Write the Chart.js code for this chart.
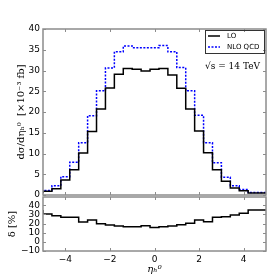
<!DOCTYPE html>
<html>
<head>
<meta charset="utf-8">
<script src="https://cdn.jsdelivr.net/npm/chart.js@4.4.1/dist/chart.umd.min.js"></script>
<style>
  html, body { margin: 0; padding: 0; background: #fff; }
  #wrap { position: relative; width: 280px; height: 280px; }
  canvas { position: absolute; left: 0; top: 0; }
</style>
</head>
<body>
<div id="wrap">
  <canvas id="topChart" width="280" height="280"></canvas>
  <canvas id="ratioChart" width="280" height="280"></canvas>
</div>
<script>
// bin edges in eta_h0 (25 bins of 0.4)
const ETA_EDGES = [-5.0, -4.6, -4.2, -3.8, -3.4, -3.0, -2.6, -2.2, -1.8, -1.4, -1.0, -0.6, -0.2, 0.2, 0.6, 1.0, 1.4, 1.8, 2.2, 2.6, 3.0, 3.4, 3.8, 4.2, 4.6, 5.0];
// dsigma/deta [x10^-3 fb]
const LO = [0.4, 0.9, 1.5, 3.6, 6.1, 10.1, 15.3, 20.7, 25.8, 29.1, 30.5, 30.3, 29.9, 30.3, 30.5, 28.9, 25.7, 20.7, 15.4, 10.2, 6.1, 3.3, 1.7, 1.0, 0.5];
const NLO_QCD = [0.6, 1.1, 2.2, 4.4, 7.9, 12.6, 19.1, 25.1, 30.6, 34.5, 35.9, 35.5, 35.5, 35.5, 36.0, 34.5, 30.7, 25.1, 19.2, 12.6, 7.8, 4.3, 2.2, 1.3, 0.6];
// delta [%]
const DELTA = [34.8, 30.4, 28.6, 26.8, 26.8, 21.6, 23.8, 19.8, 18.4, 17.3, 16.5, 16.5, 17.7, 15.8, 16.5, 17.3, 18.7, 20.2, 23.8, 22.0, 26.8, 27.5, 29.3, 31.2, 34.8];

const X_TICKS = [-4, -2, 0, 2, 4];
const TOP_Y_TICKS = [0, 5, 10, 15, 20, 25, 30, 35, 40];
const RATIO_Y_TICKS = [-10, 0, 10, 20, 30, 40];

const FRAME = '#8c8c8c';
const TICK_FONT = { family: 'DejaVu Sans', size: 9 };

// histogram points: one per left edge, plus closing point at the last edge
function steps(values) {
    const pts = values.map((v, i) => ({ x: ETA_EDGES[i], y: v }));
    pts.push({ x: ETA_EDGES[ETA_EDGES.length - 1], y: values[values.length - 1] });
    return pts;
}

function minus(v) {
    return String(v).replace('-', '\u2212');
}

// frame + inward ticks on all four sides
const framePlugin = {
    id: 'frame',
    afterDraw(chart, args, opts) {
        const { ctx, chartArea: a, scales } = chart;
        ctx.save();
        ctx.strokeStyle = FRAME;
        ctx.lineWidth = 1;
        const L = 3;
        ctx.beginPath();
        opts.xTicks.forEach(t => {
            const px = Math.round(scales.x.getPixelForValue(t)) + 0.5;
            ctx.moveTo(px, a.bottom); ctx.lineTo(px, a.bottom - L);
            ctx.moveTo(px, a.top); ctx.lineTo(px, a.top + L);
        });
        opts.yTicks.forEach(t => {
            const py = Math.round(scales.y.getPixelForValue(t)) + 0.5;
            ctx.moveTo(a.left, py); ctx.lineTo(a.left + L, py);
            ctx.moveTo(a.right, py); ctx.lineTo(a.right - L, py);
        });
        ctx.stroke();
        ctx.lineWidth = 1.5;
        ctx.strokeRect(a.left, a.top, a.right - a.left, a.bottom - a.top);
        ctx.restore();
    }
};

// legend box and sqrt(s) label
const legendBox = {
    id: 'legendBox',
    afterDraw(chart) {
        const { ctx } = chart;
        ctx.save();
        ctx.strokeStyle = '#333';
        ctx.lineWidth = 1;
        ctx.strokeRect(205.5, 30.5, 59, 23);
        ctx.font = '7px "DejaVu Sans"';
        ctx.textBaseline = 'middle';
        ctx.fillStyle = '#000';
        chart.data.datasets.forEach((ds, i) => {
            const y = 36 + i * 11;
            ctx.beginPath();
            ctx.strokeStyle = ds.borderColor;
            ctx.lineWidth = ds.borderWidth;
            ctx.setLineDash(ds.borderDash || []);
            ctx.moveTo(208, y); ctx.lineTo(220, y);
            ctx.stroke();
            ctx.setLineDash([]);
            ctx.fillText(ds.label, 227, y);
        });
        ctx.font = '9px "DejaVu Serif"';
        ctx.fillText('\u221As = 14 TeV', 205, 67);
        ctx.restore();
    }
};

const noGrid = { display: false, drawTicks: false };

new Chart(document.getElementById('topChart'), {
    type: 'line',
    data: {
        datasets: [
            { label: 'LO', data: steps(LO), borderColor: '#000000', borderWidth: 1.5, stepped: 'after', pointRadius: 0 },
            { label: 'NLO QCD', data: steps(NLO_QCD), borderColor: '#0000ff', borderWidth: 1.5, borderDash: [2, 1.5], stepped: 'after', pointRadius: 0 }
        ]
    },
    options: {
        responsive: false,
        animation: false,
        layout: { padding: { left: 0, top: 29, right: 14, bottom: 85 } },
        scales: {
            x: {
                type: 'linear', min: -5, max: 5,
                grid: noGrid, border: { display: false },
                ticks: { display: false },
                afterFit: s => { s.height = 0; }
            },
            y: {
                min: 0, max: 40,
                grid: noGrid, border: { display: false },
                afterBuildTicks: s => { s.ticks = TOP_Y_TICKS.map(v => ({ value: v })); },
                ticks: { color: '#000', font: TICK_FONT, padding: 3, autoSkip: false },
                title: { display: true, text: 'd\u03C3/d\u03B7\u2095\u2070  [\u00D710\u207B\u00B3 fb]', color: '#000', font: { family: 'DejaVu Serif', size: 10 }, padding: { top: 15, bottom: 0 } },
                afterFit: s => { s.width = 43; }
            }
        },
        plugins: {
            legend: { display: false },
            tooltip: { enabled: false },
            frame: { xTicks: X_TICKS, yTicks: TOP_Y_TICKS }
        }
    },
    plugins: [framePlugin, legendBox]
});

new Chart(document.getElementById('ratioChart'), {
    type: 'line',
    data: {
        datasets: [
            { label: '\u03B4', data: steps(DELTA), borderColor: '#000000', borderWidth: 1.5, stepped: 'after', pointRadius: 0 }
        ]
    },
    options: {
        responsive: false,
        animation: false,
        layout: { padding: { left: 0, top: 197, right: 14, bottom: 0 } },
        scales: {
            x: {
                type: 'linear', min: -5, max: 5,
                grid: noGrid, border: { display: false },
                afterBuildTicks: s => { s.ticks = X_TICKS.map(v => ({ value: v })); },
                ticks: { color: '#000', font: TICK_FONT, padding: 3, maxRotation: 0, autoSkip: false, callback: v => minus(v) },
                title: { display: true, text: '\u03B7\u2095\u2070', color: '#000', font: { family: 'DejaVu Serif', size: 10, style: 'italic' }, padding: { top: 0, bottom: 5 } },
                afterFit: s => { s.height = 29; }
            },
            y: {
                min: -10, max: 49,
                grid: noGrid, border: { display: false },
                afterBuildTicks: s => { s.ticks = RATIO_Y_TICKS.map(v => ({ value: v })); },
                ticks: { color: '#000', font: TICK_FONT, padding: 3, autoSkip: false, callback: v => minus(v) },
                title: { display: true, text: '\u03B4 [%]', color: '#000', font: { family: 'DejaVu Serif', size: 10 }, padding: { top: 6, bottom: 0 } },
                afterFit: s => { s.width = 43; }
            }
        },
        plugins: {
            legend: { display: false },
            tooltip: { enabled: false },
            frame: { xTicks: X_TICKS, yTicks: RATIO_Y_TICKS }
        }
    },
    plugins: [framePlugin]
});
</script>
</body>
</html>
